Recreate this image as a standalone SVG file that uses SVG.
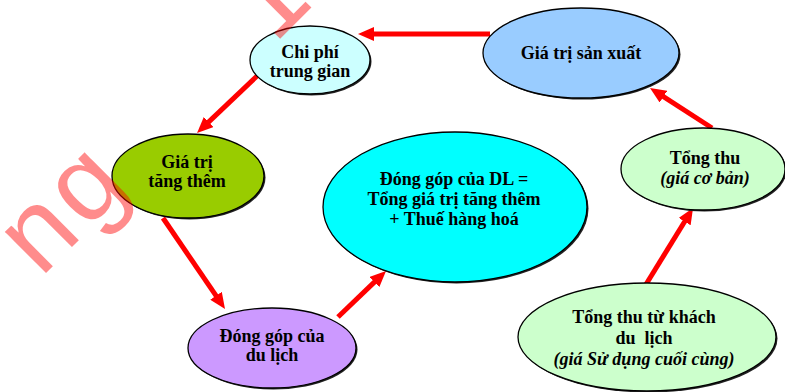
<svg xmlns="http://www.w3.org/2000/svg" width="785" height="392" viewBox="0 0 785 392">
  <style>
    .node { stroke: #000; stroke-width: 1.3; }
    .shadow { fill: #222; }
    .label { font-family: "Liberation Serif", "Times New Roman", serif; font-weight: bold; font-size: 18px; fill: #000; text-anchor: middle; }
    .ital { font-style: italic; }
    .arrow { stroke: #ff0000; stroke-width: 5; fill: none; marker-end: url(#head); }
    .mark { font-family: "Liberation Mono", "Courier New", monospace; font-size: 110px; fill: #ff0000; fill-opacity: 0.45; }
  </style>
  <defs>
    <marker id="head" markerUnits="userSpaceOnUse" markerWidth="16" markerHeight="14" refX="6" refY="7" orient="auto">
      <path d="M0,0 L16,7 L0,14 z" fill="#ff0000"/>
    </marker>
  </defs>
  <rect width="785" height="392" fill="#ffffff"/>

  <!-- flow connectors -->
  <g id="connectors">
    <line class="arrow" x1="490" y1="34" x2="368" y2="34"/>
    <line class="arrow" x1="257" y1="76" x2="204.3" y2="126.1"/>
    <line class="arrow" x1="163" y1="218" x2="219.4" y2="300.7"/>
    <line class="arrow" x1="338" y1="317" x2="378.8" y2="277.9"/>
    <line class="arrow" x1="645" y1="286" x2="687.8" y2="216.5"/>
    <line class="arrow" x1="712" y1="128" x2="658.4" y2="93.4"/>
  </g>

  <g id="chi-phi">
    <ellipse class="shadow" cx="311.5" cy="61.5" rx="60" ry="34"/>
    <ellipse class="node" cx="310" cy="60" rx="60" ry="34" fill="#ccffff"/>
    <text class="label" x="310" y="58">Chi phí</text>
    <text class="label" x="310" y="77">trung gian</text>
  </g>

  <g id="gia-tri-san-xuat">
    <ellipse class="shadow" cx="582.5" cy="54.5" rx="98" ry="45"/>
    <ellipse class="node" cx="581" cy="53" rx="98" ry="45" fill="#99ccff"/>
    <text class="label" x="581" y="59">Giá trị sản xuất</text>
  </g>

  <g id="gia-tri-tang-them">
    <ellipse class="shadow" cx="189.5" cy="177.5" rx="76" ry="42"/>
    <ellipse class="node" cx="188" cy="176" rx="76" ry="42" fill="#99cc00"/>
    <text class="label" x="187" y="168">Giá trị</text>
    <text class="label" x="187" y="187">tăng thêm</text>
  </g>

  <g id="dong-gop-dl">
    <ellipse class="shadow" cx="456.5" cy="208.5" rx="132" ry="75"/>
    <ellipse class="node" cx="455" cy="207" rx="132" ry="75" fill="#00ffff"/>
    <text class="label" x="454" y="185">Đóng góp của DL =</text>
    <text class="label" x="454" y="205">Tổng giá trị tăng thêm</text>
    <text class="label" x="454" y="225">+ Thuế hàng hoá</text>
  </g>

  <g id="tong-thu">
    <ellipse class="shadow" cx="704.5" cy="170.5" rx="82" ry="41"/>
    <ellipse class="node" cx="703" cy="169" rx="82" ry="41" fill="#ccffcc"/>
    <text class="label" x="705" y="164">Tổng thu</text>
    <text class="label ital" x="705" y="184">(giá cơ bản)</text>
  </g>

  <g id="dong-gop-du-lich">
    <ellipse class="shadow" cx="273.5" cy="349.5" rx="84" ry="40"/>
    <ellipse class="node" cx="272" cy="348" rx="84" ry="40" fill="#cc99ff"/>
    <text class="label" x="272" y="342">Đóng góp của</text>
    <text class="label" x="272" y="361">du lịch</text>
  </g>

  <g id="tong-thu-khach">
    <ellipse class="shadow" cx="648.5" cy="338.5" rx="129" ry="54"/>
    <ellipse class="node" cx="647" cy="337" rx="129" ry="54" fill="#ccffcc"/>
    <text class="label" x="644" y="323">Tổng thu từ khách</text>
    <text class="label" x="644" y="344">du&#160; lịch</text>
    <text class="label ital" x="644" y="365">(giá Sử dụng cuối cùng)</text>
  </g>

  <!-- watermark -->
  <text class="mark" x="39" y="280" transform="rotate(-45 39 280)" xml:space="preserve">ng   I</text>
</svg>
